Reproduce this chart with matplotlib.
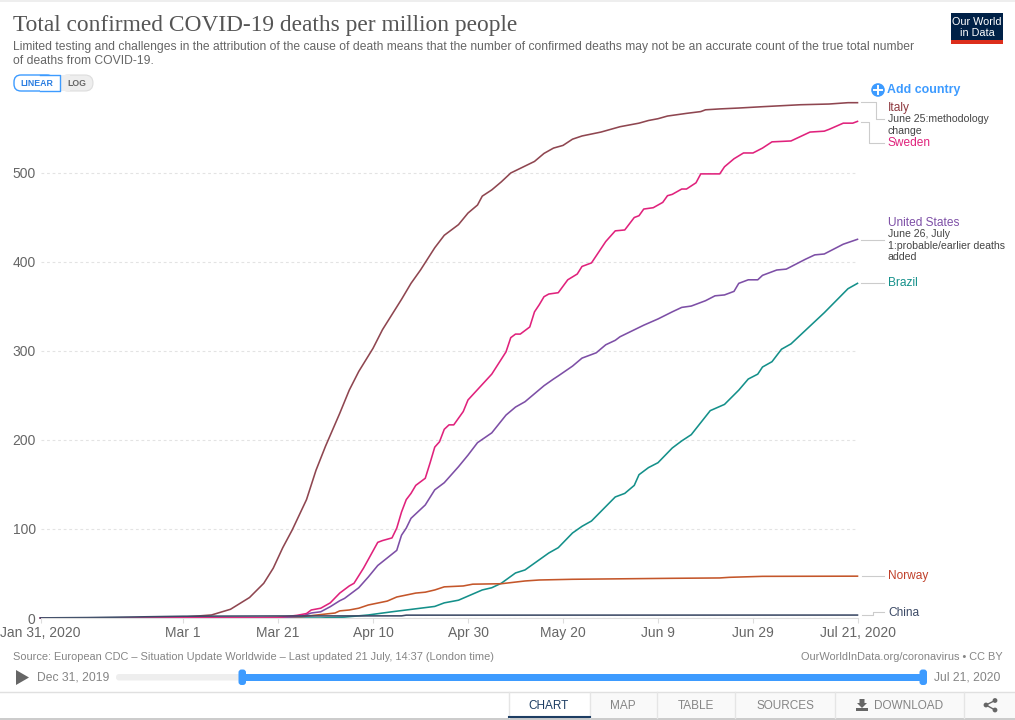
import matplotlib
matplotlib.use('Agg')
import matplotlib.pyplot as plt
from matplotlib.patches import Rectangle, FancyBboxPatch, Circle, Polygon

plt.rcParams['font.family'] = ['Liberation Sans', 'DejaVu Sans']

# days since Jan 31, 2020 / deaths per million
italy_days = [0, 20, 30, 36, 40, 44, 47, 49, 51, 53, 56, 58, 60, 63, 65, 67, 70, 72, 76, 78, 80, 83, 85, 88, 90, 92, 93,
              95, 97, 99, 104, 106, 108, 110, 112, 114, 118, 122, 126, 128, 130, 132, 136, 139, 140, 143, 147, 152,
              156, 160, 166, 170, 172]
italy_vals = [0, 0, 1, 3.4, 9.8, 23, 39, 56, 79, 99, 133, 166, 193, 230, 256, 277, 303, 324, 358, 376, 391, 416, 430,
              442, 455, 464, 474, 481, 490, 500, 513, 522, 528, 531, 538, 541.6, 546, 552, 556, 559, 561, 564, 567,
              569, 571, 572, 573, 574.5, 575.6, 576.7, 577.5, 579, 579]

sweden_days = [0, 50, 54, 56, 57, 59, 61, 63, 65, 66, 68, 71, 72, 74, 75, 76, 77, 78, 79, 80, 81, 82, 83, 84, 85, 86,
               87, 89, 90, 95, 98, 99, 100, 101, 103, 104, 105, 106, 107, 109, 111, 113, 114, 116, 118, 119, 121, 123,
               125, 126, 127, 129, 131, 132, 133, 135, 136, 138, 139, 143, 144, 146, 148, 150, 152, 154, 158, 162,
               165, 166, 169, 171, 172]
sweden_vals = [0, 0.5, 3, 5, 9, 11, 17, 28, 36, 39, 56, 85, 87, 90, 101, 119, 133, 140, 149, 153, 157, 174, 192, 198,
               212, 217, 217, 232, 245, 274, 299, 315, 319, 319, 327, 344, 352, 361, 364, 365.5, 380, 386.5, 395, 399,
               415, 423, 435, 436, 450, 452, 459.5, 461, 467, 474.5, 476, 482, 482, 489, 499, 499, 507, 516, 522.5,
               522.5, 528, 535, 536, 546, 547, 549, 556, 556, 558]

us_days = [0, 50, 55, 57, 59, 61, 63, 64, 67, 69, 71, 75, 76, 77, 78, 81, 83, 85, 87, 88, 90, 92, 95, 98, 100, 102,
           106, 108, 109, 112, 114, 117, 119, 121, 122, 127, 130, 133, 135, 137, 140, 142, 144, 146, 147, 149, 151,
           152, 155, 157, 161, 163, 165, 169, 172]
us_vals = [0, 0.3, 2, 5.6, 7, 12.7, 19.4, 22, 34, 46, 59, 76, 93, 101, 112, 127, 144, 152, 164, 170, 183, 197, 208,
           228, 237, 243, 261, 268.5, 272, 283, 292, 298, 307, 312, 316, 329, 336, 344, 349, 350.5, 356.5, 362, 363,
           367, 376, 380, 380, 385, 391, 392, 403, 408, 409, 420, 425.5]

brazil_days = [0, 59, 64, 69, 74, 80, 83, 85, 88, 93, 95, 97, 100, 102, 107, 109, 112, 114, 116, 121, 123, 125, 126,
               128, 130, 133, 135, 137, 141, 144, 147, 149, 151, 152, 154, 156, 158, 163, 165, 170, 172]
brazil_vals = [0, 0, 1, 3.4, 7, 11, 13, 17, 20, 31.5, 34, 39, 50.6, 54, 73, 79, 95.5, 103, 109, 136, 140, 149, 161,
               169, 174.5, 191, 199, 206, 233, 240, 256, 268.5, 274, 282, 288, 302, 308, 333, 343, 370, 376]

norway_days = [0, 45, 55, 62, 63, 65, 67, 69, 73, 75, 77, 79, 81, 83, 85, 89, 91, 97, 102, 105, 112, 133, 143, 145,
               152, 172]
norway_vals = [0, 0, 1.5, 5.6, 8, 9, 11, 14.6, 19, 23.6, 25.8, 28, 29, 31.5, 35, 36, 38, 38.5, 41.6, 42.7, 43.5,
               44.6, 45, 45.7, 46.8, 47]

china_days = [0, 10, 20, 30, 50, 76, 77, 172]
china_vals = [0.15, 0.5, 1.2, 2.0, 2.3, 2.4, 3.2, 3.3]

xtick_days = [0, 30, 50, 70, 90, 110, 130, 150, 172]
xtick_labels = ['Jan 31, 2020', 'Mar 1', 'Mar 21', 'Apr 10', 'Apr 30', 'May 20', 'Jun 9', 'Jun 29', 'Jul 21, 2020']
ytick_vals = [0, 100, 200, 300, 400, 500]

ITALY = '#8f4650'
SWEDEN = '#e0227c'
US = '#7d4fa6'
BRAZIL = '#14908a'
NORWAY = '#c4562a'
CHINA = '#3c4a66'
BLUE = '#3d9bff'
GREY = '#666666'
LIGHT = '#858585'

W, H = 1015, 720
fig = plt.figure(figsize=(W / 100, H / 100), dpi=100, facecolor='white')

# chart axes, pixel box 40.5..857.5 / 100..618
ax = fig.add_axes([40.5 / W, 1 - 618 / H, 817 / W, 518 / H])
ax.set_xlim(0, 172)
ax.set_ylim(0, 518 / 0.89)
ax.patch.set_alpha(0)
for s in ['top', 'right', 'left']:
    ax.spines[s].set_visible(False)
ax.spines['bottom'].set_color('#dddddd')
ax.set_yticks(ytick_vals)
ax.set_xticks(xtick_days)
ax.set_xticklabels(xtick_labels)
ax.tick_params(axis='y', length=0, pad=3.5, labelsize=10, labelcolor=GREY)
ax.tick_params(axis='x', length=3.5, width=0.8, color='#dddddd', pad=2.5, labelsize=10, labelcolor=GREY)
ax.grid(axis='y', color='#e3e3e3', linestyle=(0, (2.5, 2.5)), linewidth=0.8)
ax.set_axisbelow(True)

ax.plot(brazil_days, brazil_vals, color=BRAZIL, lw=1.15, clip_on=False)
ax.plot(norway_days, norway_vals, color=NORWAY, lw=1.15, clip_on=False)
ax.plot(italy_days, italy_vals, color=ITALY, lw=1.15, clip_on=False)
ax.plot(us_days, us_vals, color=US, lw=1.15, clip_on=False)
ax.plot(sweden_days, sweden_vals, color=SWEDEN, lw=1.15, clip_on=False)
ax.plot(china_days, china_vals, color=CHINA, lw=1.15, clip_on=False)

# everything around the chart, in pixel coordinates
ui = fig.add_axes([0, 0, 1, 1])
ui.set_xlim(0, W)
ui.set_ylim(H, 0)
ui.axis('off')
ui.patch.set_alpha(0)


def txt(x, y, s, size, color, ha='left', va='center', **kw):
    # va=center sits about a pixel high here
    ui.text(x, y + 1, s, fontsize=size, color=color, ha=ha, va=va, **kw)


ui.add_patch(Rectangle((0, 0), W, 1.5, color='#eeeeee', lw=0))

txt(13, 25, 'Total confirmed COVID-19 deaths per million people', 16.85, '#555555', family='Liberation Serif')
txt(13, 46, 'Limited testing and challenges in the attribution of the cause of death means that the number of '
    'confirmed deaths may not be an accurate count of the true total number', 8.72, GREY)
txt(13, 60, 'of deaths from COVID-19.', 8.72, GREY)

# logo
ui.add_patch(Rectangle((951, 13), 52, 27, color='#002147', lw=0))
ui.add_patch(Rectangle((951, 40), 52, 3.5, color='#dc2e1c', lw=0))
txt(977, 21, 'Our World', 7.8, 'white', ha='center')
txt(977, 32.5, 'in Data', 7.8, 'white', ha='center')

# linear / log toggle
ui.add_patch(FancyBboxPatch((60, 75), 33, 16, boxstyle='round,pad=0,rounding_size=8', fc='#eeeeee', ec='#dddddd', lw=0.8))
ui.add_patch(Rectangle((60, 75), 10, 16, fc='#eeeeee', ec='none'))
ui.add_patch(FancyBboxPatch((14, 75), 40, 16, boxstyle='round,pad=0,rounding_size=7', fc='white', ec=BLUE, lw=1))
ui.add_patch(Rectangle((40, 75.5), 20, 15, fc='white', ec='none', zorder=3))
ui.plot([40, 60, 60, 40], [75, 75, 91, 91], color=BLUE, lw=1, zorder=4)
txt(36.5, 83, 'LINEAR', 6.3, '#2a7de1', ha='center', fontweight='bold', zorder=5)
txt(77, 83, 'LOG', 6.3, GREY, ha='center', fontweight='bold')

# add country
ui.add_patch(Circle((878, 90), 6.8, color=BLUE, lw=0))
ui.plot([874, 882], [90, 90], color='white', lw=1.4)
ui.plot([878, 878], [86, 94], color='white', lw=1.4)
txt(887, 89.5, 'Add country', 8.9, BLUE, fontweight='bold')

# connectors
conn = '#cccccc'
ui.plot([861, 876, 876, 884], [102.3, 102.3, 119.3, 119.3], color=conn, lw=0.8)
ui.plot([861.5, 869.3, 869.3, 884], [121.7, 121.7, 143.3, 143.3], color=conn, lw=0.8)
ui.plot([861.5, 884], [239.7, 239.7], color=conn, lw=0.8)
ui.plot([861.5, 884], [282.7, 282.7], color=conn, lw=0.8)
ui.plot([862, 884], [576, 576], color=conn, lw=0.8)
ui.plot([862, 873, 873, 884], [615, 615, 612.3, 612.3], color=conn, lw=0.8)

# series labels
txt(888, 107.5, 'Italy', 8.6, '#8f3a40')
txt(888, 118, 'June 25:methodology', 7.58, '#444444')
txt(888, 130.5, 'change', 7.58, '#444444')
txt(888, 142.5, 'Sweden', 8.6, SWEDEN)
txt(888, 222.5, 'United States', 8.6, US)
txt(888, 233, 'June 26, July', 7.58, '#444444')
txt(888, 245, '1:probable/earlier deaths', 7.58, '#444444')
txt(888, 256.5, 'added', 7.58, '#444444')
txt(888, 282.5, 'Brazil', 8.6, BRAZIL)
txt(888, 575.5, 'Norway', 8.6, '#c0402a')
txt(888, 611.8, 'China', 8.6, CHINA)

# footer
txt(13, 656.5, 'Source: European CDC \u2013 Situation Update Worldwide \u2013 Last updated 21 July, 14:37 (London time)',
    7.9, LIGHT)
txt(1003, 656.5, 'OurWorldInData.org/coronavirus \u2022 CC BY', 7.95, LIGHT, ha='right')

# timeline
ui.add_patch(Polygon([(16, 670), (29, 677.5), (16, 685)], color=GREY, lw=0))
txt(37, 676.5, 'Dec 31, 2019', 8.7, LIGHT)
txt(934, 676.5, 'Jul 21, 2020', 8.7, LIGHT)
ui.add_patch(FancyBboxPatch((116, 674), 806, 6.5, boxstyle='round,pad=0,rounding_size=3', fc='#eeeeee', ec='none'))
ui.add_patch(Rectangle((242, 673.5), 681, 7.5, color=BLUE, lw=0))
for hx in [238.5, 919.5]:
    ui.add_patch(FancyBboxPatch((hx, 669.5), 7.5, 15.5, boxstyle='round,pad=0,rounding_size=3', fc=BLUE, ec='none'))

# tabs
ui.plot([0, W], [691.5, 691.5], color='#e0e0e0', lw=1)
ui.add_patch(Rectangle((0, 718), W, 2, color='#cccccc', lw=0))
ui.add_patch(Rectangle((590, 692), 425, 26, color='#f9f9f9', lw=0))
ui.add_patch(Rectangle((509, 692), 81, 26, color='white', lw=0))
for sx in [509, 590, 657, 735, 835, 964]:
    ui.plot([sx, sx], [691.5, 718], color='#e5e5e5', lw=1)
ui.plot([509, 590], [717, 717], color='#1d3d63', lw=1.5)
txt(549, 705, 'CHART', 8.5, '#1d3d63', ha='center')
txt(623, 705, 'MAP', 8.5, LIGHT, ha='center')
txt(696, 705, 'TABLE', 8.5, LIGHT, ha='center')
txt(785, 705, 'SOURCES', 8.5, LIGHT, ha='center')
txt(874, 705, 'DOWNLOAD', 8.5, LIGHT, va='center')

# download icon
ui.add_patch(Polygon([(859.5, 699), (864.5, 699), (864.5, 703), (867, 703), (862, 708), (857, 703), (859.5, 703)],
                     color=GREY, lw=0))
ui.add_patch(Rectangle((856, 708), 12, 3, color=GREY, lw=0))

# share icon
ui.plot([986, 995], [705, 700.5], color=GREY, lw=1)
ui.plot([986, 995], [705, 710], color=GREY, lw=1)
for cx, cy in [(986, 705), (995, 700.5), (995, 710)]:
    ui.add_patch(Circle((cx, cy), 2.4, color=GREY, lw=0))

fig.savefig('out.png', dpi=100)
